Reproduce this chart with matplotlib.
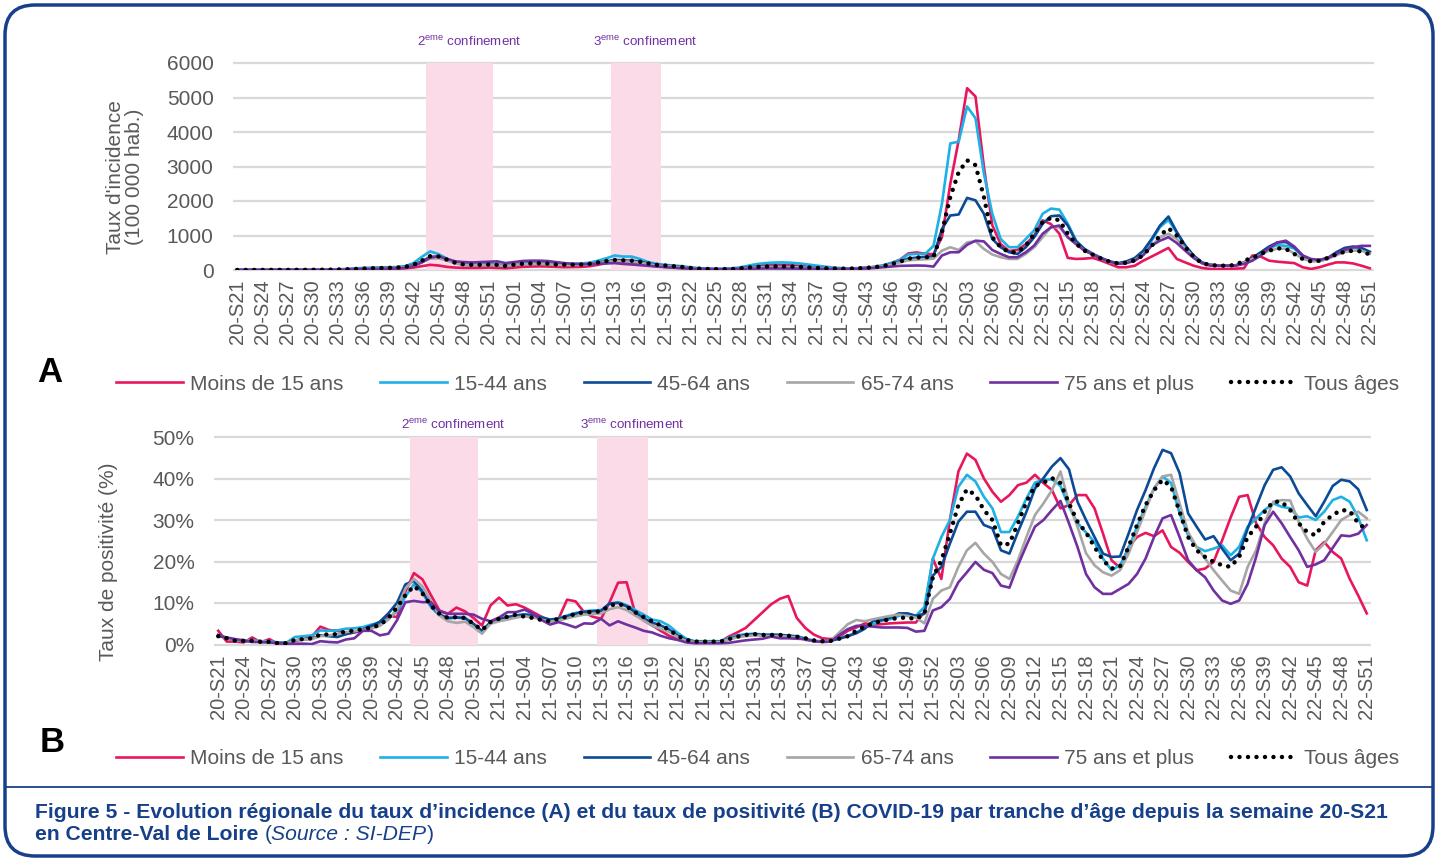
import matplotlib
matplotlib.use('Agg')
import matplotlib.pyplot as plt
from matplotlib.patches import FancyBboxPatch
from matplotlib.lines import Line2D
from matplotlib import font_manager

# ---- categories -------------------------------------------------------
weeks = ([f'20-S{w:02d}' for w in range(21, 54)] +
         [f'21-S{w:02d}' for w in range(1, 53)] +
         [f'22-S{w:02d}' for w in range(1, 52)])

series_names = ['Moins de 15 ans', '15-44 ans', '45-64 ans', '65-74 ans',
                '75 ans et plus', 'Tous âges']

# ---- panel A : taux d'incidence (/100 000 hab.) -----------------------
inc_moins15 = [2, 2, 2, 2, 2, 2, 3, 3, 4, 5,
               6, 8, 10, 12, 15, 20, 25, 30, 35, 40,
               50, 70, 110, 150, 130, 90, 70, 60, 60, 60,
               70, 60, 50, 70, 90, 100, 105, 100, 90, 80,
               85, 90, 110, 150, 200, 240, 230, 220, 180, 140,
               110, 90, 70, 60, 40, 30, 25, 20, 20, 25,
               45, 80, 120, 145, 150, 150, 140, 120, 100, 80,
               60, 45, 35, 35, 40, 55, 80, 120, 200, 300,
               480, 510, 470, 460, 950, 2500, 3770, 5270, 5030, 3000,
               1300, 750, 550, 580, 750, 1000, 1440, 1330, 1050, 350,
               320, 330, 350, 270, 175, 80, 80, 125, 270, 390,
               515, 640, 320, 220, 125, 60, 30, 30, 30, 40,
               50, 420, 390, 270, 240, 220, 200, 80, 30, 80,
               155, 220, 220, 190, 125, 50]
inc_15_44 = [3, 3, 3, 3, 3, 3, 4, 5, 6, 8,
             10, 15, 20, 30, 45, 60, 70, 75, 80, 85,
             110, 200, 380, 540, 460, 330, 230, 180, 170, 175,
             180, 170, 130, 170, 200, 210, 215, 200, 180, 175,
             180, 190, 210, 270, 340, 420, 390, 390, 320, 230,
             180, 150, 130, 110, 80, 55, 40, 35, 35, 45,
             80, 130, 175, 200, 215, 220, 210, 190, 160, 130,
             100, 75, 55, 50, 55, 70, 95, 140, 210, 290,
             450, 466, 466, 700, 1920, 3670, 3720, 4740, 4400, 2800,
             1630, 900, 660, 660, 900, 1150, 1630, 1780, 1750, 1340,
             850, 600, 450, 340, 230, 180, 220, 320, 520, 850,
             1250, 1450, 1080, 700, 400, 210, 150, 120, 120, 130,
             210, 330, 500, 640, 720, 700, 620, 400, 280, 260,
             330, 480, 600, 640, 610, 520]
inc_45_64 = [2, 2, 2, 2, 2, 2, 3, 4, 5, 6,
             8, 10, 15, 20, 30, 40, 50, 55, 60, 70,
             90, 150, 250, 380, 380, 290, 200, 150, 140, 140,
             150, 140, 110, 150, 170, 180, 185, 175, 155, 150,
             150, 155, 170, 210, 250, 290, 280, 270, 240, 190,
             150, 130, 110, 90, 60, 40, 30, 25, 25, 30,
             50, 75, 90, 100, 105, 105, 100, 90, 75, 60,
             50, 42, 38, 40, 50, 65, 85, 110, 170, 250,
             330, 360, 380, 400, 1190, 1580, 1610, 2090, 2020, 1630,
             900, 660, 515, 466, 660, 950, 1340, 1560, 1580, 1290,
             825, 610, 466, 350, 250, 200, 250, 350, 560, 900,
             1290, 1550, 1100, 710, 420, 220, 155, 125, 125, 135,
             220, 350, 515, 680, 800, 810, 660, 420, 290, 290,
             350, 515, 640, 680, 640, 530]
inc_65_74 = [2, 2, 2, 2, 2, 2, 3, 3, 4, 5,
             6, 8, 12, 18, 25, 35, 45, 50, 55, 65,
             80, 130, 220, 330, 340, 270, 190, 150, 140, 140,
             150, 140, 110, 150, 170, 175, 180, 170, 150, 145,
             145, 150, 165, 200, 230, 260, 250, 240, 210, 170,
             130, 115, 95, 80, 55, 35, 25, 20, 20, 25,
             40, 60, 75, 85, 90, 90, 85, 75, 65, 55,
             45, 40, 35, 38, 45, 60, 80, 110, 160, 220,
             280, 300, 310, 330, 560, 660, 580, 800, 830, 610,
             450, 370, 320, 320, 466, 660, 950, 1240, 1240, 950,
             760, 560, 450, 330, 220, 180, 210, 290, 450, 700,
             950, 1050, 900, 620, 370, 190, 140, 120, 120, 130,
             210, 320, 440, 560, 620, 620, 480, 330, 250, 250,
             320, 430, 520, 560, 560, 470]
inc_75plus = [2, 2, 2, 2, 2, 2, 2, 3, 3, 4,
              5, 6, 8, 12, 18, 25, 30, 35, 40, 45,
              60, 110, 220, 360, 400, 320, 250, 230, 220, 230,
              240, 250, 200, 230, 260, 270, 270, 260, 230, 200,
              180, 170, 170, 180, 190, 200, 175, 160, 140, 120,
              100, 80, 65, 50, 40, 30, 25, 22, 22, 25,
              30, 35, 40, 45, 45, 45, 42, 40, 35, 32,
              30, 28, 28, 30, 35, 45, 60, 80, 100, 120,
              125, 130, 125, 100, 420, 515, 515, 730, 850, 830,
              580, 466, 370, 370, 515, 710, 1050, 1240, 1290, 950,
              750, 560, 450, 330, 240, 180, 200, 270, 430, 710,
              850, 950, 780, 560, 350, 200, 125, 125, 125, 125,
              175, 270, 420, 640, 800, 850, 680, 420, 320, 290,
              350, 466, 580, 660, 700, 700]
inc_tous = [2, 2, 2, 2, 2, 2, 3, 4, 5, 6,
            8, 10, 14, 20, 30, 40, 50, 55, 60, 70,
            90, 150, 270, 400, 390, 300, 210, 160, 150, 150,
            160, 150, 115, 155, 180, 190, 195, 185, 160, 155,
            155, 160, 180, 220, 260, 290, 280, 270, 240, 190,
            150, 130, 110, 90, 60, 40, 30, 25, 25, 30,
            50, 75, 90, 100, 105, 105, 100, 90, 75, 60,
            50, 42, 38, 40, 48, 62, 85, 115, 170, 240,
            330, 360, 370, 380, 1100, 2120, 2840, 3180, 3040, 2120,
            950, 660, 515, 515, 710, 1050, 1390, 1510, 1440, 1050,
            760, 560, 440, 330, 240, 190, 210, 280, 430, 700,
            1000, 1210, 1000, 660, 390, 190, 145, 125, 125, 145,
            270, 350, 466, 560, 630, 610, 466, 320, 250, 270,
            350, 450, 530, 560, 540, 450]

# ---- panel B : taux de positivite (%) ---------------------------------
pos_moins15 = [3.3, 0.7, 0.7, 0.5, 1.7, 0.5, 1.3, 0.2, 0.1, 0.9,
               1.3, 1.9, 4.3, 3.5, 3.3, 2.5, 2.9, 3.3, 4.0, 4.7,
               7.0, 6.6, 12.7, 17.2, 15.7, 11.9, 8.2, 7.4, 8.9, 8.0,
               6.4, 4.6, 9.4, 11.3, 9.4, 9.7, 8.9, 7.8, 6.7, 5.8,
               6.2, 10.8, 10.4, 7.8, 6.7, 6.2, 10.2, 14.9, 15.0, 7.6,
               5.8, 4.6, 3.3, 2.1, 1.3, 0.9, 0.65, 0.65, 0.65, 0.65,
               1.9, 2.9, 4.0, 5.9, 7.8, 9.7, 11.0, 11.7, 6.4, 4.0,
               2.4, 1.5, 1.3, 1.9, 3.3, 4.1, 5.1, 4.8, 4.9, 5.1,
               5.2, 5.3, 5.3, 7.8, 20.7, 15.8, 30.0, 41.7, 46.0, 44.5,
               40.0, 36.8, 34.4, 36.0, 38.4, 39.0, 40.9, 38.9, 37.2, 32.8,
               33.6, 36.0, 36.0, 32.8, 26.7, 20.3, 18.5, 23.5, 25.9, 26.9,
               26.1, 27.5, 23.5, 22.1, 19.9, 17.9, 18.3, 19.9, 25.1, 30.6,
               35.6, 36.0, 29.2, 25.9, 23.9, 20.7, 18.7, 15.0, 14.2, 22.7,
               24.7, 22.3, 20.7, 15.8, 11.8, 7.5]
pos_15_44 = [2.2, 1.5, 1.0, 1.0, 1.0, 0.8, 0.8, 0.5, 0.4, 1.8,
             2.0, 2.2, 3.4, 3.3, 3.4, 3.8, 3.9, 4.2, 4.8, 5.2,
             6.2, 8.0, 11.5, 14.5, 12.5, 9.0, 7.0, 6.3, 6.5, 6.3,
             4.8, 3.2, 5.2, 6.0, 6.5, 7.0, 7.3, 7.0, 6.5, 6.0,
             6.3, 7.0, 7.6, 8.0, 8.2, 8.3, 9.8, 10.2, 9.5, 8.3,
             7.2, 6.0, 5.6, 4.5, 2.8, 1.4, 0.8, 0.8, 0.8, 0.8,
             1.6, 2.2, 2.5, 2.6, 2.4, 2.4, 2.3, 2.2, 2.0, 1.5,
             0.9, 0.8, 0.9, 1.5, 2.1, 2.9, 4.1, 4.9, 5.7, 6.1,
             6.9, 7.4, 6.9, 9.0, 20.7, 25.9, 30.0, 38.0, 40.9, 39.3,
             35.6, 32.8, 27.1, 27.1, 30.8, 35.2, 39.0, 39.7, 39.8, 38.2,
             33.2, 29.3, 27.0, 24.7, 20.7, 17.9, 19.1, 23.1, 28.4, 33.2,
             37.6, 40.5, 38.9, 31.6, 26.3, 23.5, 22.5, 23.1, 23.9, 21.5,
             23.5, 28.4, 30.4, 32.4, 34.0, 33.2, 32.8, 30.6, 30.9, 30.0,
             32.0, 34.8, 35.6, 34.4, 30.6, 25.1]
pos_45_64 = [2.3, 1.6, 1.0, 0.8, 0.8, 0.6, 0.6, 0.4, 0.4, 1.0,
             1.2, 1.4, 2.2, 2.0, 1.8, 2.5, 3.0, 3.6, 4.5, 5.5,
             7.5, 10.0, 14.5, 15.3, 12.8, 9.5, 7.2, 6.4, 6.5, 6.4,
             5.0, 3.3, 5.4, 6.2, 6.6, 7.0, 7.2, 7.0, 6.5, 6.0,
             6.2, 6.8, 7.4, 7.9, 8.0, 8.1, 9.9, 10.0, 9.2, 7.8,
             6.3, 5.3, 4.6, 3.6, 2.1, 1.1, 0.7, 0.7, 0.7, 0.7,
             1.3, 1.9, 2.3, 2.5, 2.3, 2.3, 2.3, 2.1, 1.9, 1.2,
             0.8, 0.7, 0.9, 1.4, 2.0, 2.7, 3.8, 5.7, 5.9, 6.5,
             7.5, 7.5, 6.9, 7.4, 16.6, 18.7, 24.3, 29.6, 32.0, 32.0,
             28.8, 28.0, 22.7, 21.9, 27.1, 32.0, 37.6, 40.1, 42.9, 44.9,
             42.2, 34.4, 30.0, 25.9, 21.9, 21.1, 21.2, 26.7, 32.4, 37.2,
             42.5, 46.9, 46.1, 41.3, 31.6, 28.4, 25.3, 26.1, 23.1, 20.3,
             21.9, 27.9, 33.2, 38.4, 42.1, 42.7, 40.5, 36.4, 33.6, 30.9,
             34.4, 38.2, 39.7, 39.3, 37.4, 32.4]
pos_65_74 = [2.0, 1.6, 1.0, 1.0, 0.8, 0.8, 0.6, 0.3, 0.3, 1.0,
             1.2, 1.3, 2.0, 2.2, 2.5, 3.0, 3.2, 3.5, 3.8, 4.5,
             6.0, 8.5, 13.5, 15.8, 14.0, 10.5, 7.0, 5.6, 5.2, 5.5,
             4.2, 2.6, 5.0, 5.6, 6.0, 6.5, 6.8, 6.5, 6.0, 5.5,
             5.8, 6.3, 6.8, 7.2, 7.3, 7.5, 8.5, 9.0, 8.3, 7.0,
             5.8, 4.5, 3.8, 3.0, 1.8, 0.9, 0.6, 0.6, 0.6, 0.6,
             1.2, 1.7, 2.0, 2.2, 2.1, 2.0, 2.0, 1.9, 1.7, 1.1,
             0.8, 0.7, 0.9, 2.9, 4.9, 5.9, 5.6, 6.1, 6.5, 6.9,
             7.2, 6.9, 6.5, 5.1, 11.0, 13.0, 13.8, 18.7, 22.7, 24.5,
             21.9, 19.9, 17.0, 15.8, 20.3, 25.9, 31.2, 34.0, 37.2, 41.7,
             34.0, 28.4, 22.0, 19.1, 17.4, 16.6, 17.9, 21.9, 27.1, 32.4,
             37.6, 40.5, 40.9, 34.0, 27.1, 23.5, 20.7, 17.9, 15.4, 13.0,
             12.2, 18.7, 22.7, 29.2, 34.4, 34.8, 34.7, 29.6, 25.5, 22.3,
             24.3, 27.1, 30.0, 31.2, 32.0, 30.4]
pos_75plus = [2.0, 1.7, 1.3, 1.0, 0.6, 0.6, 0.5, 0.3, 0.2, 0.2,
              0.2, 0.1, 0.8, 0.6, 0.5, 1.2, 1.5, 3.3, 3.3, 2.2,
              2.6, 5.8, 10.2, 10.5, 10.2, 10.2, 8.0, 7.4, 7.4, 7.4,
              7.2, 6.2, 5.6, 6.5, 7.8, 7.8, 8.4, 7.4, 5.9, 4.8,
              5.4, 4.8, 4.1, 5.1, 5.0, 6.2, 4.6, 5.6, 4.8, 4.1,
              3.3, 2.9, 2.1, 1.5, 1.1, 0.5, 0.3, 0.3, 0.3, 0.3,
              0.4, 0.7, 1.0, 1.2, 1.4, 1.9, 1.5, 1.5, 1.4, 1.3,
              0.8, 0.6, 0.7, 2.3, 3.7, 4.5, 4.5, 4.3, 4.1, 4.1,
              4.1, 4.0, 3.1, 3.3, 8.2, 9.0, 11.0, 15.0, 17.4, 19.9,
              18.0, 17.2, 14.2, 13.7, 19.1, 23.9, 28.4, 30.0, 32.4, 34.6,
              29.2, 23.5, 17.0, 13.8, 12.2, 12.2, 13.4, 14.6, 17.0, 20.7,
              25.9, 30.4, 31.2, 25.9, 20.3, 17.9, 16.2, 13.0, 10.6, 9.8,
              10.6, 14.6, 21.1, 28.8, 32.0, 29.2, 25.9, 22.7, 18.7, 19.3,
              20.3, 23.3, 26.3, 26.1, 26.7, 28.8]
pos_tous = [2.0, 1.5, 0.9, 0.9, 0.9, 0.65, 0.65, 0.3, 0.3, 1.1,
            1.3, 1.5, 2.4, 2.4, 2.5, 3.2, 3.3, 3.7, 4.1, 4.7,
            6.4, 8.9, 11.9, 14.1, 12.3, 9.4, 7.4, 6.4, 6.6, 6.4,
            5.0, 3.5, 5.4, 6.2, 6.7, 7.2, 6.7, 6.4, 5.9, 5.6,
            6.2, 6.7, 7.4, 7.8, 7.8, 8.0, 9.4, 9.8, 9.2, 7.8,
            6.6, 5.6, 4.6, 3.6, 2.1, 1.1, 0.7, 0.7, 0.7, 0.7,
            1.3, 1.9, 2.3, 2.5, 2.3, 2.3, 2.3, 2.1, 1.9, 1.5,
            1.0, 0.8, 0.9, 1.4, 2.0, 3.3, 4.3, 5.1, 5.7, 6.1,
            6.4, 6.5, 6.1, 7.4, 16.2, 20.3, 26.7, 33.6, 37.4, 36.0,
            32.4, 30.0, 23.9, 24.3, 29.2, 34.4, 38.2, 39.0, 40.1, 38.9,
            34.0, 29.6, 27.0, 23.5, 20.3, 18.3, 18.8, 23.5, 28.8, 33.6,
            37.2, 39.7, 38.0, 32.0, 25.9, 22.7, 21.1, 19.9, 19.1, 18.7,
            21.1, 25.9, 28.4, 32.0, 34.4, 34.4, 32.4, 29.2, 27.1, 26.3,
            29.6, 31.2, 32.4, 32.2, 29.2, 27.7]

# confinement periods (first / last week shaded)
confinements = [('2', '20-S44', '20-S51'), ('3', '21-S13', '21-S18')]

colors = ['#E8175D', '#1DB1E5', '#0B4A96', '#A6A6A6', '#7030A0', 'black']
grey_txt = '#595959'
blue_txt = '#17408B'

names = {f.name for f in font_manager.fontManager.ttflist}
narrow = 'Liberation Sans Narrow' if 'Liberation Sans Narrow' in names else 'Liberation Sans'
plt.rcParams['font.family'] = ['Liberation Sans', 'DejaVu Sans']
plt.rcParams['mathtext.fontset'] = 'custom'
plt.rcParams['mathtext.rm'] = narrow

fig = plt.figure(figsize=(14.38, 8.6), dpi=100)

# background frame (pixel coordinates)
bg = fig.add_axes([0, 0, 1, 1], zorder=-1)
bg.set_xlim(0, 1438)
bg.set_ylim(860, 0)
bg.axis('off')
bg.add_patch(FancyBboxPatch((5, 5), 1428, 851, boxstyle='round,pad=0,rounding_size=30',
                            fc='white', ec=blue_txt, lw=2.5))
bg.plot([5, 1433], [787, 787], color=blue_txt, lw=1.3)


def style_lines(ax, series):
    for vals, col, name in zip(series, colors, series_names):
        if name == 'Tous âges':
            ax.plot(range(len(vals)), vals, color=col, lw=3.2, ls=(0, (0.01, 1.9)),
                    dash_capstyle='round', zorder=5)
        else:
            ax.plot(range(len(vals)), vals, color=col, lw=1.9, zorder=3)


def setup_axes(ax, top, step, fmt):
    ax.set_xlim(-0.5, len(weeks) - 0.5)
    ax.set_ylim(0, top)
    ticks = [i * step for i in range(int(round(top / step)) + 1)]
    ax.set_yticks(ticks)
    ax.set_yticklabels([fmt(t) for t in ticks], fontsize=15, color=grey_txt)
    ax.hlines(ticks, -0.5, len(weeks) - 0.5, color='#d9d9d9', lw=1.6, zorder=0.5, clip_on=False)
    ax.set_xticks(range(0, len(weeks), 3))
    ax.set_xticklabels(weeks[::3], rotation=90, fontsize=14.5, color=grey_txt)
    ax.tick_params(length=0)
    ax.tick_params(axis='x', pad=7)
    ax.tick_params(axis='y', pad=14)
    for s in ax.spines.values():
        s.set_visible(False)
    ax.patch.set_alpha(0)
    for num, w0, w1 in confinements:
        ax.axvspan(weeks.index(w0) - 0.5, weeks.index(w1) + 0.5, color='#FCDBE8', lw=0, zorder=1)


axA = fig.add_axes([233 / 1438, 1 - 270 / 860, 1141 / 1438, 207 / 860])
setup_axes(axA, 6000, 1000, lambda t: f'{t:d}')
style_lines(axA, [inc_moins15, inc_15_44, inc_45_64, inc_65_74, inc_75plus, inc_tous])

axB = fig.add_axes([214 / 1438, 1 - 644.5 / 860, 1157 / 1438, 207.5 / 860])
setup_axes(axB, 50, 10, lambda t: f'{t:d}%')
style_lines(axB, [pos_moins15, pos_15_44, pos_45_64, pos_65_74, pos_75plus, pos_tous])

# confinement labels
for ax, ytxt in [(axA, 42), (axB, 425)]:
    for num, w0, w1 in confinements:
        xc = (weeks.index(w0) + weeks.index(w1)) / 2
        xd = ax.transData.transform((xc, 0))[0]
        bg.text(xd + 10, ytxt, num + r'$^{\mathrm{eme}}$ confinement', family=narrow,
                fontsize=9.6, color='#7030A0', ha='center', va='center')

# y labels
bg.text(125, 177, "Taux d'incidence\n(100 000 hab.)", rotation=90, ha='center', va='center',
        fontsize=15, color=grey_txt, linespacing=1.0)
bg.text(108, 562, 'Taux de positivité (%)', rotation=90, ha='center', va='center',
        fontsize=15, color=grey_txt)

# legends
handles = []
for col, name in zip(colors, series_names):
    if name == 'Tous âges':
        handles.append(Line2D([], [], color=col, lw=3.2, ls=(0, (0.01, 1.9)), dash_capstyle='round'))
    else:
        handles.append(Line2D([], [], color=col, lw=1.9))
for yc in [384, 759]:
    fig.legend(handles, series_names, ncol=6, loc='center', bbox_to_anchor=(758 / 1438, 1 - yc / 860),
               frameon=False, fontsize=15, handlelength=3.2, handletextpad=0.35,
               columnspacing=1.75, labelcolor=grey_txt)

bg.text(50, 372, 'A', fontsize=25, fontweight='bold', ha='center', va='center')
bg.text(52, 742, 'B', fontsize=25, fontweight='bold', ha='center', va='center')

# caption
cap_size = 15.2
bg.text(35, 812, 'Figure 5 - Evolution régionale du taux d’incidence (A) et du taux de positivité (B) '
        'COVID-19 par tranche d’âge depuis la semaine 20-S21', fontsize=cap_size, fontweight='bold',
        color=blue_txt, va='center')
fig.canvas.draw()
renderer = fig.canvas.get_renderer()
x = 35
for txt, w, st in [('en Centre-Val de Loire ', 'bold', 'normal'), ('(', 'normal', 'normal'),
                   ('Source : SI-DEP', 'normal', 'italic'), (')', 'normal', 'normal')]:
    t = bg.text(x, 834, txt, fontsize=cap_size, fontweight=w, fontstyle=st, color=blue_txt, va='center')
    bb = t.get_window_extent(renderer=renderer)
    x += bb.width

fig.savefig('out.png', dpi=100)
